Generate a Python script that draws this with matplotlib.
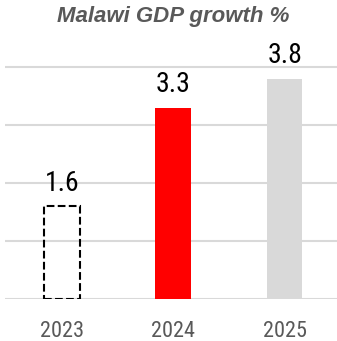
import matplotlib
matplotlib.use("Agg")
import matplotlib.pyplot as plt

years = ["2023", "2024", "2025"]
values = [1.6, 3.3, 3.8]
labels = ["1.6", "3.3", "3.8"]
face_colors = ["none", "#ff0000", "#d9d9d9"]
edge_styles = ["dashed", "solid", "solid"]
edge_colors = ["#000000", "none", "none"]
grid_ticks = [0, 1, 2, 3, 4]

narrow = ['Roboto Condensed', 'DejaVu Sans']
plt.rcParams['font.family'] = ['Liberation Sans', 'DejaVu Sans']

fig = plt.figure(figsize=(3.37, 3.41), dpi=100)
ax = fig.add_axes([5/337, 42/341, 332/337, 261/341])
x = list(range(len(years)))
for i in x:
    ax.bar(i, values[i], width=0.32, color=face_colors[i], edgecolor=edge_colors[i],
           linestyle=edge_styles[i], linewidth=1.5 if face_colors[i] == "none" else 0, zorder=3)
    ax.annotate(labels[i], (i, values[i]), xytext=(0, 11), textcoords="offset points",
                ha="center", va="baseline", fontsize=20, color="#000000", family=narrow)

ax.set_xlim(-0.51, 2.47)
ax.set_ylim(0, 4.5)
ax.set_yticks(grid_ticks)
ax.yaxis.grid(True, color="#d9d9d9", linewidth=1.5, zorder=0)
ax.set_axisbelow(True)
ax.tick_params(axis="y", left=False, labelleft=False)
ax.tick_params(axis="x", bottom=False, labelsize=16, labelcolor="#595959", pad=12)
ax.set_xticks(x)
ax.set_xticklabels(years, family=narrow)
for s in ax.spines.values():
    s.set_visible(False)

fig.text(173.5/337, 1 - 16.5/341, "Malawi GDP growth %", ha="center", va="center",
         fontsize=16, fontweight="bold", fontstyle="italic", color="#595959")

fig.savefig("out.png", dpi=100)
